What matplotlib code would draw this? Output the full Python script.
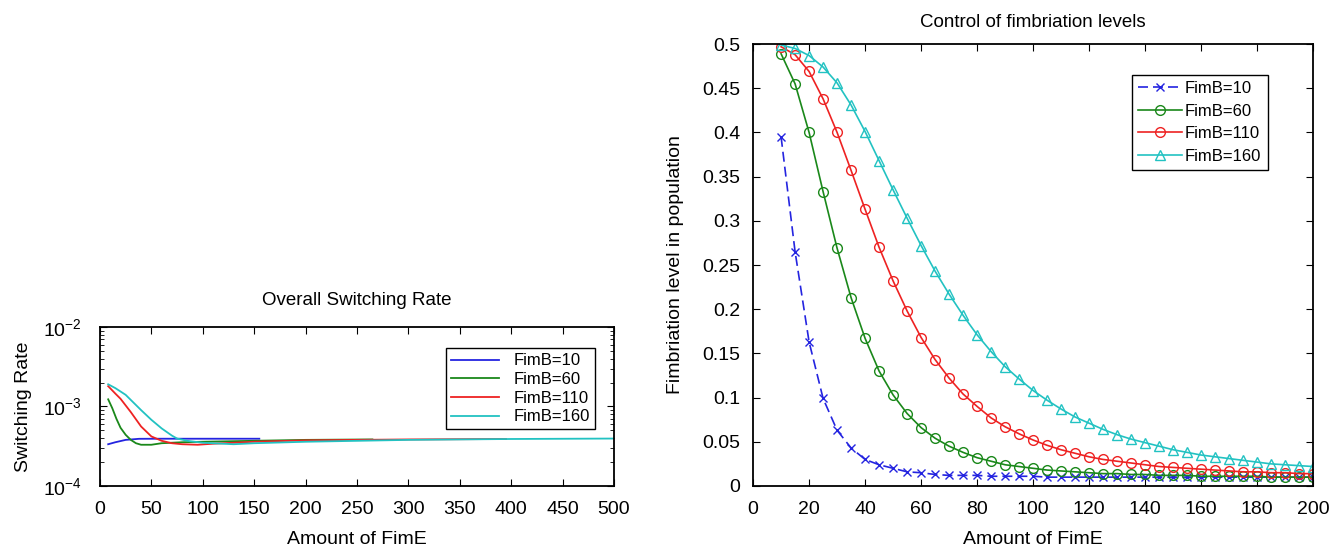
import numpy as np
import matplotlib
matplotlib.use("Agg")
import matplotlib.pyplot as plt
from matplotlib.ticker import LogLocator, NullFormatter, FuncFormatter

plt.rcParams['font.family'] = ['Liberation Sans', 'DejaVu Sans']
plt.rcParams['mathtext.default'] = 'regular'

labels = ['FimB=10', 'FimB=60', 'FimB=110', 'FimB=160']
colors = ['#2424e0', '#1a881a', '#ee2222', '#22c2c2']

# Overall switching rate (left)
sw_x10 = [8, 15, 25, 38, 60, 100, 155]
sw_y10 = [3.35e-4, 3.55e-4, 3.8e-4, 3.92e-4, 3.93e-4, 3.93e-4, 3.93e-4]
sw_x60 = [8, 12, 16, 20, 25, 30, 35, 40, 50, 60, 80, 100, 150, 200, 265]
sw_y60 = [1.23e-3, 9.5e-4, 7.0e-4, 5.4e-4, 4.4e-4, 3.8e-4, 3.45e-4, 3.3e-4,
          3.3e-4, 3.45e-4, 3.55e-4, 3.6e-4, 3.7e-4, 3.8e-4, 3.85e-4]
sw_x110 = [8, 15, 20, 30, 40, 50, 60, 70, 80, 95, 110, 150, 200, 300, 395]
sw_y110 = [1.8e-3, 1.45e-3, 1.25e-3, 8.5e-4, 5.6e-4, 4.2e-4, 3.7e-4, 3.45e-4,
           3.35e-4, 3.3e-4, 3.4e-4, 3.6e-4, 3.75e-4, 3.85e-4, 3.9e-4]
sw_x160 = [8, 15, 25, 40, 50, 60, 70, 75, 85, 100, 130, 150, 200, 300, 400, 500]
sw_y160 = [1.9e-3, 1.7e-3, 1.4e-3, 9.0e-4, 6.8e-4, 5.3e-4, 4.3e-4, 3.95e-4,
           3.7e-4, 3.5e-4, 3.35e-4, 3.45e-4, 3.6e-4, 3.8e-4, 3.9e-4, 3.95e-4]

# Fimbriation level (right)
fimE = list(range(10, 205, 5))
fim10 = [0.395, 0.265, 0.163, 0.099, 0.063, 0.043, 0.030, 0.024, 0.020, 0.016,
         0.015, 0.013, 0.012, 0.012, 0.012, 0.011, 0.011, 0.011, 0.011, 0.010,
         0.010, 0.010, 0.010, 0.010, 0.010, 0.010, 0.010, 0.010, 0.010, 0.010,
         0.010, 0.010, 0.010, 0.010, 0.010, 0.010, 0.010, 0.010, 0.010]
fim60 = [0.489, 0.455, 0.400, 0.333, 0.269, 0.213, 0.167, 0.130, 0.103, 0.082,
         0.066, 0.054, 0.045, 0.038, 0.032, 0.028, 0.024, 0.022, 0.020, 0.018,
         0.017, 0.016, 0.015, 0.014, 0.014, 0.013, 0.013, 0.012, 0.012, 0.012,
         0.011, 0.011, 0.011, 0.011, 0.011, 0.010, 0.010, 0.010, 0.010]
fim110 = [0.497, 0.488, 0.469, 0.438, 0.400, 0.357, 0.313, 0.270, 0.232, 0.198,
          0.168, 0.143, 0.122, 0.104, 0.090, 0.077, 0.067, 0.059, 0.052, 0.046,
          0.041, 0.037, 0.033, 0.030, 0.028, 0.026, 0.024, 0.022, 0.021, 0.020,
          0.019, 0.018, 0.017, 0.016, 0.016, 0.015, 0.015, 0.014, 0.014]
fim160 = [0.499, 0.495, 0.487, 0.474, 0.456, 0.431, 0.401, 0.368, 0.335, 0.303,
          0.272, 0.243, 0.217, 0.193, 0.171, 0.152, 0.135, 0.121, 0.108, 0.097,
          0.087, 0.078, 0.071, 0.064, 0.058, 0.053, 0.049, 0.045, 0.041, 0.038,
          0.035, 0.033, 0.031, 0.029, 0.027, 0.025, 0.024, 0.023, 0.022]

fig = plt.figure(figsize=(13.4, 5.51), dpi=100)

# left chart
ax1 = fig.add_axes([0.0746, 0.118, 0.3836, 0.2886])
sw_x = [sw_x10, sw_x60, sw_x110, sw_x160]
sw_y = [sw_y10, sw_y60, sw_y110, sw_y160]
for xs, ys, c, lab in zip(sw_x, sw_y, colors, labels):
    ax1.plot(xs, ys, color=c, lw=1.3, label=lab)
ax1.set_yscale('log')
ax1.set_xlim(0, 500)
ax1.set_ylim(1e-4, 1e-2)
ax1.set_xticks(range(0, 501, 50))
ax1.yaxis.set_major_locator(LogLocator(base=10, numticks=5))
ax1.yaxis.set_minor_locator(LogLocator(base=10, subs=np.arange(2, 10), numticks=10))
ax1.yaxis.set_minor_formatter(NullFormatter())
ax1.set_title('Overall Switching Rate', fontsize=13.5, pad=16)
ax1.set_xlabel('Amount of FimE', fontsize=14, labelpad=9)
ax1.set_ylabel('Switching Rate', fontsize=14, labelpad=8)
leg1 = ax1.legend(loc='upper right', fontsize=12, fancybox=False, edgecolor='black',
                  framealpha=1, handlelength=2.9, borderpad=0.3, labelspacing=0.22,
                  handletextpad=0.9, bbox_to_anchor=(0.98, 0.918))
leg1.get_frame().set_linewidth(1.0)

# right chart
ax2 = fig.add_axes([0.562, 0.118, 0.418, 0.802])
ax2.plot(fimE, fim10, color=colors[0], ls='--', marker='x', ms=6, mew=1.0, lw=1.2,
         label=labels[0], dashes=(6, 3))
ax2.plot(fimE, fim60, color=colors[1], marker='o', ms=7, mfc='none', mew=1.0, lw=1.2,
         label=labels[1])
ax2.plot(fimE, fim110, color=colors[2], marker='o', ms=7, mfc='none', mew=1.0, lw=1.2,
         label=labels[2])
ax2.plot(fimE, fim160, color=colors[3], marker='^', ms=6.5, mfc='none', mew=1.0, lw=1.2,
         label=labels[3])
ax2.set_xlim(0, 200)
ax2.set_ylim(0, 0.5)
ax2.set_xticks(range(0, 201, 20))
ax2.set_yticks(np.arange(0, 0.501, 0.05))
ax2.yaxis.set_major_formatter(FuncFormatter(lambda v, p: '%g' % round(v, 2)))
ax2.set_title('Control of fimbriation levels', fontsize=13.5, pad=12)
ax2.set_xlabel('Amount of FimE', fontsize=14, labelpad=9)
ax2.set_ylabel('Fimbriation level in population', fontsize=14, labelpad=13)
leg2 = ax2.legend(loc='upper right', fontsize=12, fancybox=False, edgecolor='black',
                  framealpha=1, handlelength=2.6, borderpad=0.4, labelspacing=0.45,
                  handletextpad=0.2, bbox_to_anchor=(0.934, 0.95))
leg2.get_frame().set_linewidth(1.0)

for ax in (ax1, ax2):
    ax.tick_params(which='both', direction='in', top=True, right=True, labelsize=14)
    ax.tick_params(which='major', length=5)
    ax.tick_params(which='minor', length=3)
    ax.tick_params(axis='x', pad=11)
    for s in ax.spines.values():
        s.set_linewidth(1.3)
ax1.tick_params(axis='y', pad=13)
ax2.tick_params(axis='y', pad=9)

fig.savefig('out.png', dpi=100)
